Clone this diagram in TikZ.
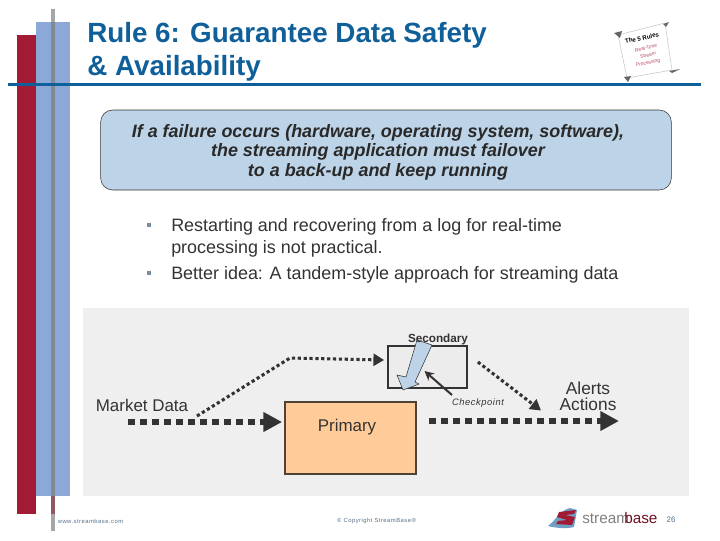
\documentclass[tikz,border=0pt]{standalone}
\usepackage{fontspec}
\setmainfont{Liberation Sans}
\usetikzlibrary{arrows.meta}
\definecolor{titleblue}{HTML}{0F5F9A}
\definecolor{barred}{HTML}{A31A35}
\definecolor{barblue}{HTML}{8CA8D6}
\definecolor{calloutblue}{HTML}{BDD3E7}
\definecolor{panelgrey}{HTML}{EFEFEF}
\definecolor{inkgrey}{HTML}{333333}
\definecolor{primaryfill}{HTML}{FFCC99}
\definecolor{footgrey}{HTML}{54708A}
\tikzset{
    boxnode/.style={draw=inkgrey,line width=1.6pt,inner sep=0pt},
    bignode/.style={font=\fontsize{12.7}{15}\selectfont,text=inkgrey,inner sep=0pt,align=center},
    bulletnode/.style={font=\fontsize{13.45}{16.5}\selectfont,text=inkgrey,inner sep=0pt,anchor=west,align=left},
    bulletmark/.style={fill=footgrey!80,inner sep=0pt,minimum size=3.6pt},
    footnode/.style={font=\fontsize{4.4}{5}\selectfont\addfontfeature{LetterSpace=8},text=footgrey,inner sep=0pt},
    scrollnode/.style={rotate=12,inner sep=0pt,text=barred!80,font=\fontsize{3.7}{4}\selectfont},
    bigflow/.style={draw=inkgrey,line width=4.8pt,dash pattern=on 5pt off 4pt,-{Triangle[length=14pt,width=14pt]}},
    smallflow/.style={draw=inkgrey,line width=2.3pt,dash pattern=on 2.4pt off 2pt,-{Triangle[length=8pt,width=9pt]}},
}
\begin{document}
\begin{tikzpicture}[x=0.75pt,y=-0.75pt]
\useasboundingbox (0,0) rectangle (720,540);
% side bars
\fill[barred] (17,35) rectangle (36,514);
\fill[barblue] (36,22) rectangle (70,496);
\fill[gray!70] (51,9) rectangle (55,22);
\fill[gray,opacity=.75] (51,22) rectangle (55,496);
\fill[gray!60!barred] (51,496) rectangle (55,514);
\fill[gray!70] (51,514) rectangle (55,531);
\fill[titleblue] (8,83) rectangle (701,86);
% title
\node (title) at (87,51.5)[anchor=west,inner sep=0pt,align=left,text=titleblue,font=\fontsize{20.85}{24.8}\bfseries\selectfont]{Rule 6: Guarantee Data Safety\\\& Availability};
% scroll
\draw[gray!45,fill=white] (618,35)--(665,23)--(672,70)--(627,78)--cycle;
\fill[gray!80!black] (614,33)--(622,31)--(620,38)--cycle (663,24)--(669,22)--(666,27)--cycle (669,71)--(680,69)--(672,73)--cycle (624,77)--(631,76)--(628,82)--cycle;
\node (scrollA) at (642,38)[rotate=12,inner sep=0pt,text=black,font=\fontsize{4.6}{5}\bfseries\selectfont]{The 5 Rules};
\node (scrollB) at (646,48)[scrollnode]{Real-Time};
\node (scrollC) at (648,55)[scrollnode]{Stream};
\node (scrollD) at (648,63)[scrollnode]{Processing};
% callout
\node (callout) at (386,150)[draw=inkgrey,fill=calloutblue,rounded corners=9pt,minimum width=428pt,minimum height=60pt,inner sep=0pt]{};
\node (callouttxt) at (378,152)[inner sep=0pt,align=center,font=\fontsize{13.45}{14.7}\bfseries\itshape\selectfont,text=inkgrey!80!black]{If a failure occurs (hardware, operating system, software),\\the streaming application must failover\\to a back-up and keep running};
% bullets
\node (bulletA) at (149,225)[bulletmark]{};
\node (bulletB) at (149,273)[bulletmark]{};
\node (pointA) at (171,237.5)[bulletnode]{Restarting and recovering from a log for real-time\\processing is not practical.};
\node (pointB) at (171,274.5)[bulletnode]{Better idea: A tandem-style approach for streaming data};
% panel
\fill[panelgrey] (83,308) rectangle (689,496);
\node (secondary) at (427.5,367)[boxnode,fill=gray!15,minimum width=59pt,minimum height=31pt]{};
\node (primary) at (350.5,438)[boxnode,draw=inkgrey!80!brown,fill=primaryfill,minimum width=98pt,minimum height=54pt]{};
% failover arrow
\draw[inkgrey,line width=.4pt,fill=calloutblue] (417,340)--(432,345)--(415,382)--(419,384)--(403,390)--(397,375)--(406,377)--cycle;
\node (secondarytxt) at (438,339)[inner sep=0pt,text=inkgrey,font=\fontsize{8.8}{10}\bfseries\selectfont]{Secondary};
\node (primarytxt) at (347,427)[bignode]{Primary};
\node (market) at (142,405)[bignode]{Market Data};
\node (alerts) at (588,396.5)[bignode,font=\fontsize{13}{11.6}\selectfont]{Alerts\\Actions};
\node (checkpoint) at (478,403)[inner sep=0pt,text=inkgrey,font=\fontsize{7}{8}\itshape\selectfont\addfontfeature{LetterSpace=6}]{Checkpoint};
% flows
\coordinate (mktstart) at ([shift={(-14,17)}]market.center);
\coordinate (mktend) at ([shift={(-2,-16)}]primary.west);
\coordinate (outstart) at ([shift={(12,-17)}]primary.east);
\coordinate (outend) at (619,421);
\coordinate (tapstart) at (197,416);
\coordinate (tapbend) at (290,358);
\coordinate (tapend) at ([shift={(-3,-7)}]secondary.west);
\coordinate (forwardstart) at ([shift={(10,-5)}]secondary.east);
\coordinate (forwardend) at ([shift={(-47,14)}]alerts.center);
\coordinate (cpstart) at ([shift={(-26,-8)}]checkpoint.center);
\coordinate (cpend) at ([shift={(-3,4)}]secondary.center);
\draw[bigflow] (mktstart)--(mktend);
\draw[bigflow] (outstart)--(outend);
\draw[smallflow] (tapstart)--(tapbend)--(tapend);
\draw[smallflow] (forwardstart)--(forwardend);
\draw[inkgrey,line width=1.5pt,-{Stealth[length=7pt,width=7pt]}] (cpstart)--(cpend);
% footer
\node (website) at (90.5,521)[footnode]{www.streambase.com};
\node (copyright) at (376.5,521)[footnode]{© Copyright StreamBase®};
\fill[titleblue!60] (548,526)..controls (556,520) and (560,510)..(570,508)--(577,510)--(574,527)..controls (566,529) and (556,528)..(548,526)--cycle;
\fill[barred] (559,512)--(576,510)--(574,514)--(565,515)--(575,517)--(572,525)--(556,524)--(558,521)--(567,520)--(557,517)--cycle;
\node (logoA) at (582,518.5)[anchor=west,inner sep=0pt,text=gray,font=\fontsize{11.5}{14}\selectfont]{stream};
\node (logoB) at (624,518.5)[anchor=west,inner sep=0pt,text=barred!70!black,font=\fontsize{11.5}{14}\selectfont]{base};
\node (pagenum) at (671,520)[inner sep=0pt,text=footgrey,font=\fontsize{6}{8}\selectfont]{26};
\end{tikzpicture}
\end{document}
